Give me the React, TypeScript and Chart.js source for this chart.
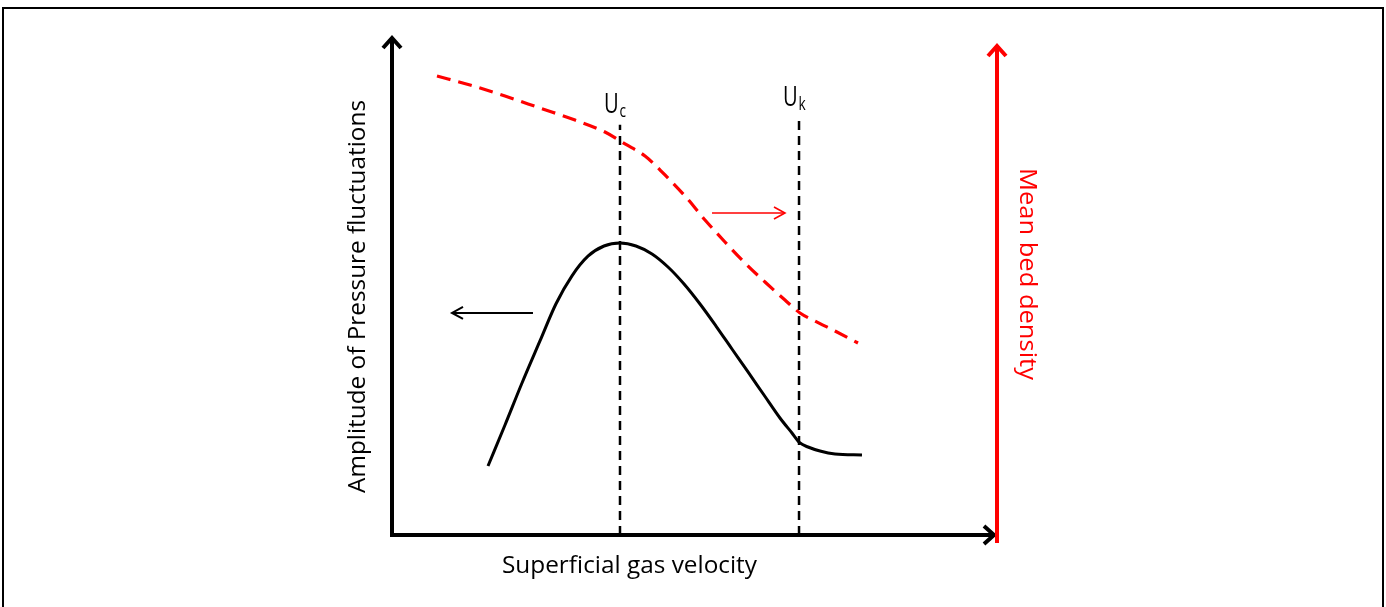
import React, { useEffect, useRef } from "react";
import { Chart, registerables } from "chart.js";

Chart.register(...registerables);

// Black curve: amplitude of pressure fluctuations (left axis)
const AMP_X = [15.92, 18.74, 21.56, 24.54, 27.2, 29.85, 32.5, 35.16, 37.81, 40.46, 43.12, 45.77, 48.43, 51.08, 53.73, 56.38, 59.04, 61.69, 64.34, 66.33, 67.66, 68.99, 70.98, 73.47, 77.94];
const AMP_Y = [14.08, 22.45, 31.02, 39.6, 47.2, 52.9, 56.9, 58.98, 59.59, 58.98, 57.35, 54.69, 51.22, 47.14, 42.65, 37.96, 33.27, 28.57, 23.88, 20.82, 18.78, 17.96, 17.14, 16.53, 16.33];

// Red dashed curve: mean bed density (right axis)
const DEN_X = [7.46, 12.94, 18.74, 24.54, 30.35, 35.32, 38.64, 41.96, 45.27, 48.59, 51.91, 55.22, 58.54, 61.86, 65.17, 67.66, 70.15, 73.47, 77.28];
const DEN_Y = [93.67, 91.84, 89.59, 87.14, 84.69, 82.24, 79.8, 77.35, 73.47, 69.18, 64.29, 59.8, 55.51, 51.63, 47.96, 45.31, 43.67, 41.63, 39.18];

// Characteristic velocities
const MARK_NAMES = ["c", "k"];
const MARK_X = [37.81, 67.5];
const MARK_TOP = [83.7, 85.1];

// Direction arrows [x from, x to, y]
const ARROW_LEFT = [23.38, 9.95, 45.31];
const ARROW_RIGHT = [53.07, 65.17, 65.71];

const X_TITLE = "Superficial gas velocity";
const Y_TITLE = "Amplitude of Pressure fluctuations";
const Y2_TITLE = "Mean bed density";

const FONT = "'Open Sans', 'DejaVu Sans', sans-serif";

function toPoints(xs: number[], ys: number[]) {
  return xs.map((x, i) => ({ x, y: ys[i] }));
}

function fitText(
  ctx: CanvasRenderingContext2D,
  text: string,
  x: number,
  y: number,
  rot: number,
  size: number,
  targetW: number,
  color: string
) {
  ctx.save();
  ctx.translate(x, y);
  ctx.rotate(rot);
  ctx.font = `${size}px ${FONT}`;
  const w = ctx.measureText(text).width;
  ctx.scale(targetW / w, 1);
  ctx.fillStyle = color;
  ctx.textAlign = "center";
  ctx.textBaseline = "alphabetic";
  ctx.fillText(text, 0, 0);
  ctx.restore();
}

function chevron(ctx: CanvasRenderingContext2D, tx: number, ty: number, dx: number, dy: number, len: number, half: number) {
  const px = -dy, py = dx;
  ctx.beginPath();
  ctx.moveTo(tx - dx * len + px * half, ty - dy * len + py * half);
  ctx.lineTo(tx, ty);
  ctx.lineTo(tx - dx * len - px * half, ty - dy * len - py * half);
  ctx.stroke();
}

const decorPlugin = {
  id: "decor",
  afterDatasetsDraw(chart: any) {
    const ctx: CanvasRenderingContext2D = chart.ctx;
    const xs = chart.scales.x;
    const ys = chart.scales.y;
    const { left, right, top, bottom } = chart.chartArea;
    ctx.save();
    ctx.lineCap = "butt";
    ctx.lineJoin = "miter";

    // frame
    ctx.strokeStyle = "#000";
    ctx.lineWidth = 2;
    ctx.strokeRect(3, 8, 1380, 700);

    // x axis
    ctx.lineWidth = 4;
    ctx.beginPath();
    ctx.moveTo(left - 2, bottom);
    ctx.lineTo(right - 2, bottom);
    ctx.stroke();
    chevron(ctx, right - 1, bottom, 1, 0, 10, 9);

    // left y axis
    ctx.beginPath();
    ctx.moveTo(left, bottom + 2);
    ctx.lineTo(left, top - 6);
    ctx.stroke();
    chevron(ctx, left, top - 7, 0, -1, 10, 9);

    // right (red) axis
    const rx = right + 2;
    ctx.strokeStyle = "#ff0000";
    ctx.beginPath();
    ctx.moveTo(rx, bottom + 8);
    ctx.lineTo(rx, top + 2);
    ctx.stroke();
    chevron(ctx, rx, top + 1, 0, -1, 10, 9);

    // direction arrows
    ctx.lineWidth = 2;
    ctx.strokeStyle = "#000";
    {
      const x1 = xs.getPixelForValue(ARROW_LEFT[0]);
      const x2 = xs.getPixelForValue(ARROW_LEFT[1]);
      const y = ys.getPixelForValue(ARROW_LEFT[2]);
      ctx.beginPath();
      ctx.moveTo(x1, y);
      ctx.lineTo(x2, y);
      ctx.stroke();
      chevron(ctx, x2, y, -1, 0, 11, 6);
    }
    ctx.strokeStyle = "#ff0000";
    ctx.lineWidth = 1.6;
    {
      const x1 = xs.getPixelForValue(ARROW_RIGHT[0]);
      const x2 = xs.getPixelForValue(ARROW_RIGHT[1]);
      const y = ys.getPixelForValue(ARROW_RIGHT[2]);
      ctx.beginPath();
      ctx.moveTo(x1, y);
      ctx.lineTo(x2, y);
      ctx.stroke();
      chevron(ctx, x2, y, 1, 0, 11, 6);
    }

    // U labels
    MARK_X.forEach((mx, i) => {
      const px = xs.getPixelForValue(mx);
      const py = ys.getPixelForValue(MARK_TOP[i]);
      ctx.save();
      ctx.fillStyle = "#000";
      ctx.textAlign = "left";
      ctx.textBaseline = "alphabetic";
      ctx.translate(px - 16, py - 12);
      ctx.scale(0.72, 1);
      ctx.font = `28px ${FONT}`;
      ctx.fillText("U", 0, 0);
      const uw = ctx.measureText("U").width;
      ctx.font = `19px ${FONT}`;
      ctx.fillText(MARK_NAMES[i], uw + 1, 4);
      ctx.restore();
    });

    // titles
    fitText(ctx, X_TITLE, 629.5, 573, 0, 23, 255, "#000");
    fitText(ctx, Y_TITLE, 365, 296.5, -Math.PI / 2, 23, 393, "#000");
    fitText(ctx, Y2_TITLE, 1020, 274, Math.PI / 2, 23, 212, "#ff0000");

    ctx.restore();
  },
};

export default function App() {
  const ref = useRef<HTMLCanvasElement | null>(null);
  useEffect(() => {
    if (!ref.current) return;
    const vlines = MARK_X.map((mx, i) => ({
      data: [
        { x: mx, y: 0 },
        { x: mx, y: MARK_TOP[i] },
      ],
      showLine: true,
      borderColor: "#000",
      borderWidth: 2.5,
      borderDash: [9, 6],
      pointRadius: 0,
    }));
    const chart = new Chart(ref.current, {
      type: "scatter",
      data: {
        datasets: [
          {
            data: toPoints(AMP_X, AMP_Y),
            showLine: true,
            borderColor: "#000",
            borderWidth: 3,
            pointRadius: 0,
            cubicInterpolationMode: "monotone",
          },
          {
            data: toPoints(DEN_X, DEN_Y),
            showLine: true,
            borderColor: "#ff0000",
            borderWidth: 3.2,
            borderDash: [14, 8],
            pointRadius: 0,
            cubicInterpolationMode: "monotone",
          },
          ...vlines,
        ] as any,
      },
      options: {
        animation: false,
        responsive: false,
        devicePixelRatio: 1,
        layout: { padding: { left: 392, right: 391, top: 45, bottom: 72 } },
        plugins: { legend: { display: false }, tooltip: { enabled: false } },
        scales: {
          x: { type: "linear", min: 0, max: 100, display: false },
          y: { type: "linear", min: 0, max: 100, display: false },
        },
      },
      plugins: [decorPlugin],
    });
    return () => chart.destroy();
  }, []);
  return (
    <div style={{ position: "fixed", left: 0, top: 0, width: 1386, height: 607, background: "#fff" }}>
      <canvas ref={ref} width={1386} height={607} style={{ display: "block" }} />
    </div>
  );
}
